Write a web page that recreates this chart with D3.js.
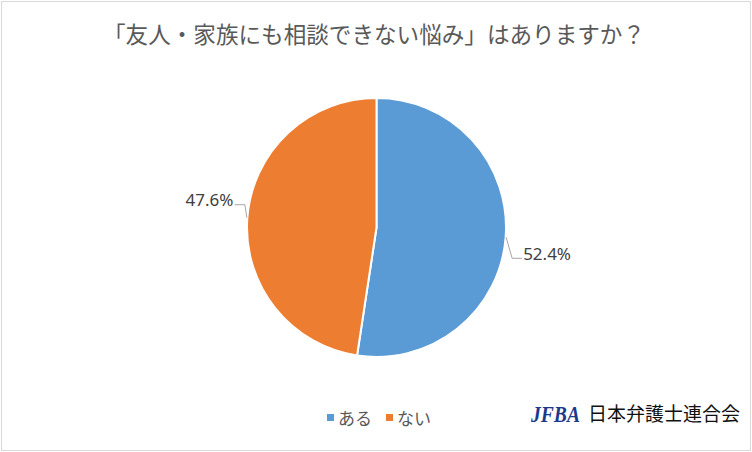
<!DOCTYPE html>
<html><head><meta charset="utf-8">
<script src="https://cdn.jsdelivr.net/npm/d3@7"></script>
<style>html,body{margin:0;padding:0;background:#fff;}svg{display:block;}</style>
</head><body>
<svg id="c" width="752" height="452"></svg>
<script>
const title = "「友人・家族にも相談できない悩み」はありますか？";
const categories = ["ある", "ない"];
const values = [52.4, 47.6];
const labels = ["52.4%", "47.6%"];
const colors = ["#5B9BD5", "#ED7D31"];

const svg = d3.select("#c");
const W = 752, H = 452;
const font = "'Noto Sans CJK JP','Noto Sans',sans-serif";

svg.append("rect").attr("x", 1.5).attr("y", 1.5).attr("width", W - 3).attr("height", H - 3)
  .attr("fill", "#fff").attr("stroke", "#d9d9d9").attr("stroke-width", 1);

svg.append("text").attr("x", 374).attr("y", 43).attr("text-anchor", "middle")
  .attr("font-family", font).attr("font-size", 23).attr("fill", "#595959")
  .attr("textLength", 542).attr("lengthAdjust", "spacingAndGlyphs").text(title);

const cx = 376.5, cy = 227.5, R = 129.5;
const data = categories.map((c, i) => ({cat: c, v: values[i], label: labels[i], color: colors[i]}));
const pie = d3.pie().sort(null).value(d => d.v);
const arc = d3.arc().innerRadius(0).outerRadius(R);
const arcs = pie(data);
const g = svg.append("g").attr("transform", `translate(${cx},${cy})`);
g.selectAll("path").data(arcs).join("path")
  .attr("d", arc).attr("fill", d => d.data.color)
  .attr("stroke", "#fff").attr("stroke-width", 2).attr("stroke-linejoin", "round");

// leader lines and labels
arcs.forEach((a, i) => {
  const mid = (a.startAngle + a.endAngle) / 2;
  const right = Math.sin(mid) > 0;
  const p0 = [Math.sin(mid) * (R + 0.5), -Math.cos(mid) * (R + 0.5)];
  const p1 = right ? [p0[0] + 6, p0[1] + 21] : [p0[0] - 2, p0[1] - 13];
  const p2 = right ? [p1[0] + 10, p1[1]] : [p1[0] - 10, p1[1]];
  g.append("polyline").attr("points", [p0, p1, p2].map(p => p.join(",")).join(" "))
    .attr("fill", "none").attr("stroke", "#a6a6a6").attr("stroke-width", 1);
  g.append("text").attr("x", right ? p2[0] + 1 : p2[0] - 1.5).attr("y", p2[1] + 1.5)
    .attr("text-anchor", right ? "start" : "end")
    .attr("font-family", "'Noto Sans',sans-serif").attr("font-size", 17).attr("fill", "#404040")
    .text(a.data.label);
});

// legend
const leg = svg.append("g");
const legX = [327, 386];
data.forEach((d, i) => {
  leg.append("rect").attr("x", legX[i]).attr("y", 414).attr("width", 7).attr("height", 7).attr("fill", d.color);
  leg.append("text").attr("x", legX[i] + 11).attr("y", 424.5).attr("font-family", font)
    .attr("font-size", 17).attr("fill", "#595959").text(d.cat);
});

// logo
svg.append("text").attr("x", 531).attr("y", 422).attr("font-family", "'Liberation Serif',serif")
  .attr("font-size", 23).attr("font-weight", "bold").attr("font-style", "italic")
  .attr("fill", "#1b3a8c").attr("textLength", 49).attr("lengthAdjust", "spacingAndGlyphs").text("JFBA");
svg.append("text").attr("x", 588).attr("y", 421).attr("font-family", font)
  .attr("font-size", 19).attr("fill", "#111").attr("textLength", 152).attr("lengthAdjust", "spacingAndGlyphs").text("日本弁護士連合会");
</script>
</body></html>
